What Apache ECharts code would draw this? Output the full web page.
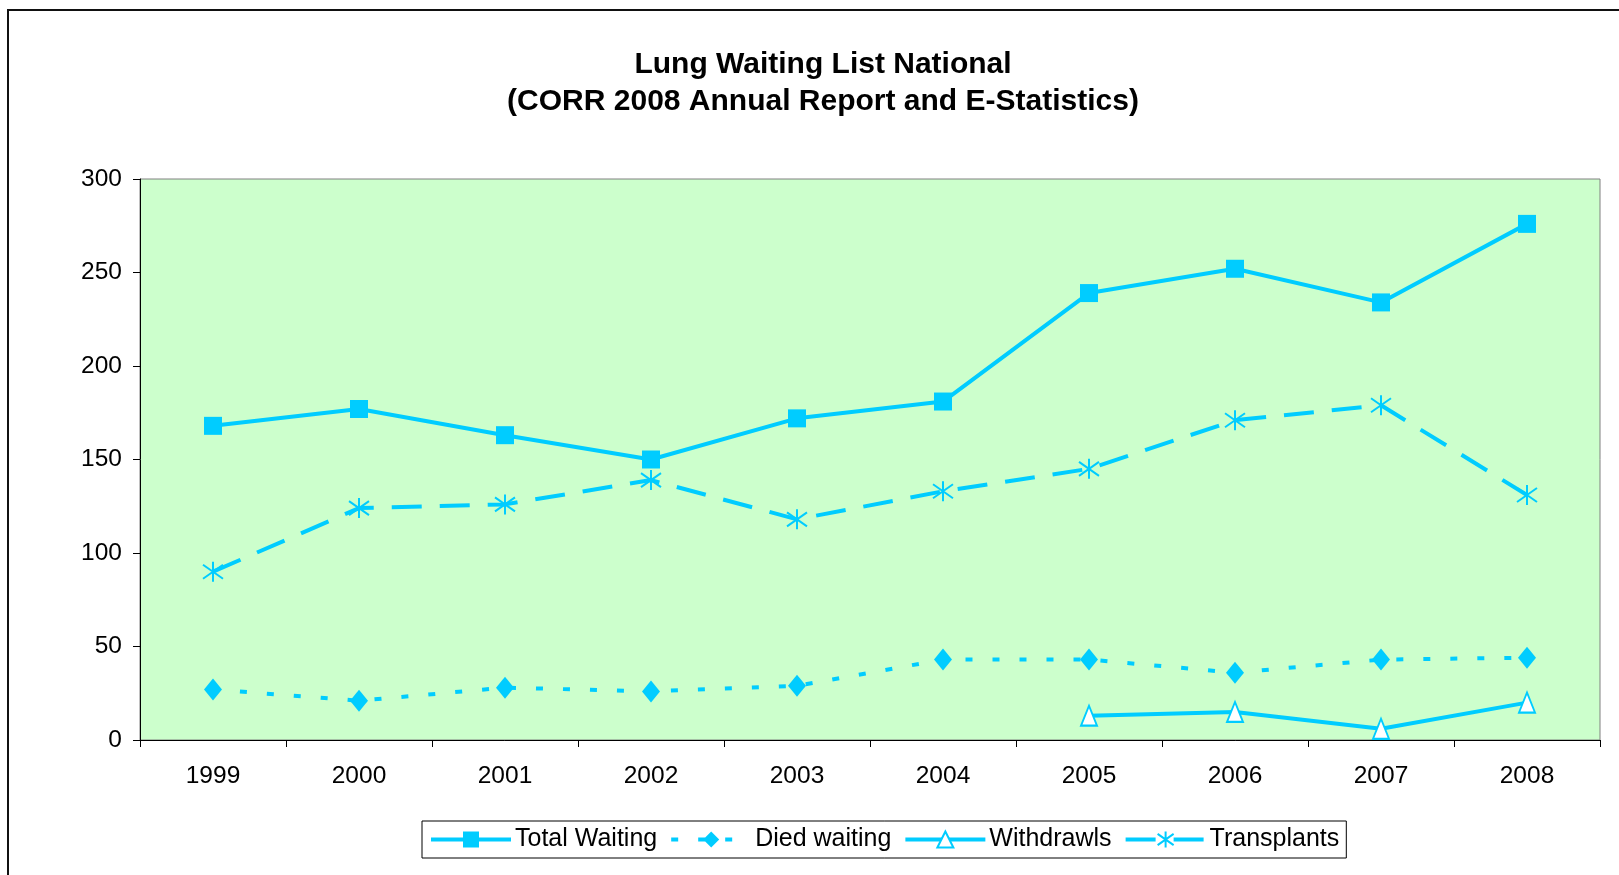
<!DOCTYPE html>
<html>
<head>
<meta charset="utf-8">
<script src="https://cdn.jsdelivr.net/npm/echarts@6/dist/echarts.min.js"></script>
<style>
html,body{margin:0;padding:0;background:#fff;}
#chart{width:1619px;height:875px;}
</style>
</head>
<body>
<div id="chart"></div>
<script>
const years = ['1999','2000','2001','2002','2003','2004','2005','2006','2007','2008'];
const totalWaiting = [168, 177, 163, 150, 172, 181, 239, 252, 234, 276];
const diedWaiting = [27, 21, 28, 26, 29, 43, 43, 36, 43, 44];
const withdrawls = ['-', '-', '-', '-', '-', '-', 13, 15, 6, 20];
const transplants = [90, 124, 126, 139, 118, 133, 145, 171, 179, 131];
const yTicks = [0, 50, 100, 150, 200, 250, 300];

const C = '#00CCFF';
const FONT = '"Liberation Sans", Arial, sans-serif';
const chart = echarts.init(document.getElementById('chart'));
chart.setOption({
  animation: false,
  backgroundColor: '#fff',
  textStyle: {fontFamily: FONT},
  graphic: [{
    type: 'rect', shape: {x: 8, y: 10, width: 1700, height: 1000},
    style: {fill: 'none', stroke: '#111', lineWidth: 2}, silent: true, z: -1
  }],
  title: {
    text: 'Lung Waiting List National\n(CORR 2008 Annual Report and E-Statistics)',
    left: 823, textAlign: 'center', top: 46, padding: 0,
    textStyle: {fontFamily: FONT, fontSize: 30, fontWeight: 'bold', color: '#000', lineHeight: 37}
  },
  legend: {
    left: 422, top: 821, padding: [6, 7],
    borderColor: '#000', borderWidth: 1,
    itemWidth: 80, itemHeight: 20, itemGap: 12,
    lineStyle: {width: 4},
    textStyle: {fontFamily: FONT, fontSize: 25, color: '#000', padding: [2, 0, 0, -1]},
    data: ['Total Waiting', 'Died waiting', 'Withdrawls', 'Transplants']
  },
  grid: {left: 140, right: 19, top: 179, bottom: 135, show: true,
    backgroundColor: '#CCFFCC', borderColor: '#808080', borderWidth: 1},
  xAxis: {
    type: 'category', data: years, boundaryGap: true,
    axisLine: {lineStyle: {color: '#000', width: 1}},
    axisTick: {show: true, length: 7, interval: 0, lineStyle: {color: '#000'}},
    axisLabel: {fontFamily: FONT, fontSize: 24.5, color: '#000', margin: 24, interval: 0},
    splitLine: {show: false}
  },
  yAxis: {
    type: 'value', min: 0, max: 300, interval: 50,
    axisLine: {show: true, lineStyle: {color: '#000', width: 1}},
    axisTick: {show: true, length: 7, lineStyle: {color: '#000'}},
    axisLabel: {fontFamily: FONT, fontSize: 24.5, color: '#000', margin: 18,
      formatter: v => yTicks.includes(v) ? String(v) : ''},
    splitLine: {show: false}
  },
  series: [
    {name: 'Total Waiting', type: 'line', data: totalWaiting,
      symbol: 'rect', symbolSize: 18,
      lineStyle: {color: C, width: 4},
      itemStyle: {color: C}},
    {name: 'Died waiting', type: 'line', data: diedWaiting,
      symbol: 'diamond', symbolSize: [18, 22],
      lineStyle: {color: C, width: 4, type: [7, 20]},
      itemStyle: {color: C}},
    {name: 'Withdrawls', type: 'line', data: withdrawls,
      symbol: 'triangle', symbolSize: [16, 20],
      lineStyle: {color: C, width: 4},
      itemStyle: {color: '#fff', borderColor: C, borderWidth: 2}},
    {name: 'Transplants', type: 'line', data: transplants,
      symbol: 'path://M0,3L20,17M20,3L0,17M10,0L10,20', symbolSize: 20,
      lineStyle: {color: C, width: 4, type: [30, 18]},
      itemStyle: {color: C, borderColor: C, borderWidth: 2}}
  ]
});
</script>
</body>
</html>
